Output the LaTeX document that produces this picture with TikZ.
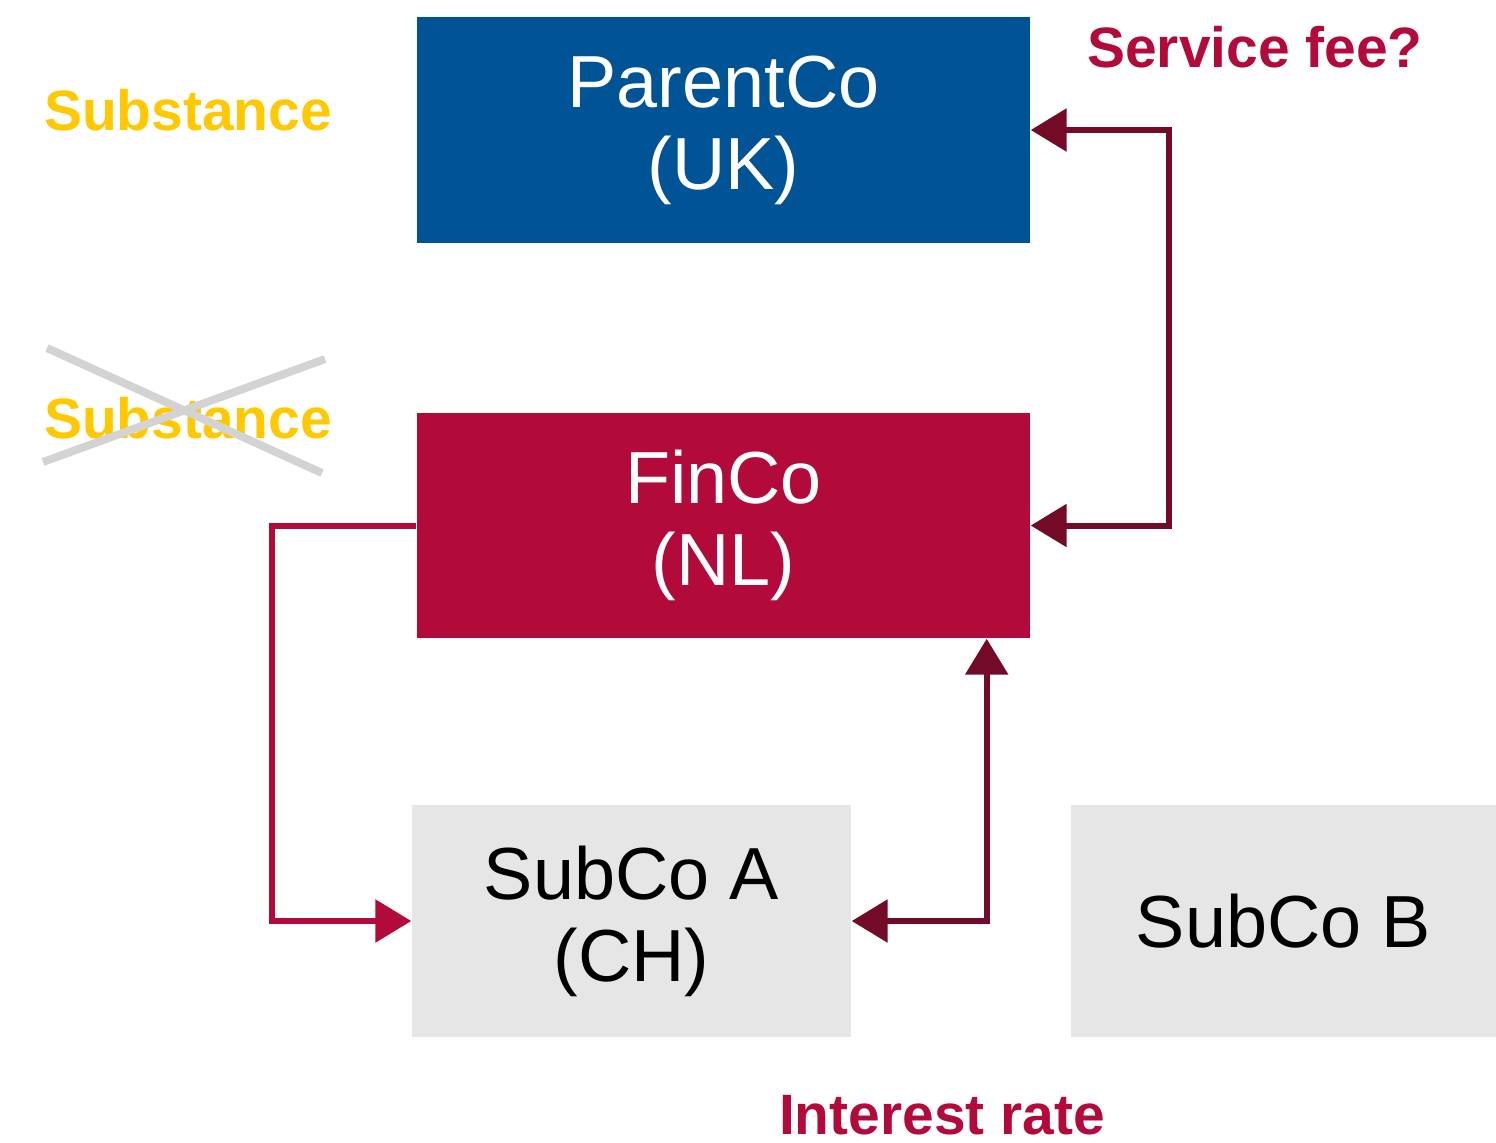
\documentclass[tikz,border=0pt]{standalone}
\usepackage{fontspec}
\setmainfont{Liberation Sans}
\usepackage{tikz}
\usetikzlibrary{arrows.meta, positioning, calc}

\definecolor{parentblue}{HTML}{005495}
\definecolor{fincored}{HTML}{B20A3A}
\definecolor{flowdark}{HTML}{730A28}
\definecolor{subgray}{HTML}{E6E6E6}
\definecolor{substyellow}{HTML}{FFC800}
\definecolor{crossgray}{HTML}{D3D3D3}

\begin{document}
\begin{tikzpicture}[
        entity_box/.style={
            rectangle, inner sep=0pt, align=center,
            font=\fontsize{21}{23.3}\selectfont
        },
        note_label/.style={
            font=\fontsize{16.2}{19}\selectfont\bfseries, inner sep=0pt
        },
        flow_line/.style={
            line width=0.06cm, color=flowdark,
            {Triangle[length=0.36cm, width=0.42cm]}-{Triangle[length=0.36cm, width=0.42cm]}
        },
        loan_line/.style={
            line width=0.06cm, color=fincored,
            -{Triangle[length=0.36cm, width=0.42cm]}
        }
    ]

    \useasboundingbox (0,0) rectangle (14.96,-11.42);

    % Define the entities (Top to Bottom)
    \node[entity_box, fill=parentblue, text=white, minimum width=6.13cm, minimum height=2.26cm] (parent) at (7.235,-1.30) {ParentCo\\(UK)};
    \node[entity_box, fill=fincored, text=white, minimum width=6.13cm, minimum height=2.25cm] (finco) at (7.235,-5.255) {FinCo\\(NL)};
    \node[entity_box, fill=subgray, minimum width=4.39cm, minimum height=2.32cm] (subA) at (6.315,-9.21) {SubCo A\\(CH)};
    \node[entity_box, fill=subgray, minimum width=4.25cm, minimum height=2.32cm] (subB) at (12.835,-9.21) {SubCo B};

    % Substance notes
    \node[note_label, text=substyellow] (substOk) at (1.88,-1.10) {Substance};
    \node[note_label, text=substyellow] (substNo) at (1.88,-4.18) {Substance};
    \draw[crossgray, line width=0.08cm] (0.47,-3.48) -- (3.22,-4.73);
    \draw[crossgray, line width=0.08cm] (0.43,-4.62) -- (3.25,-3.59);

    % Flow labels
    \node[note_label, text=fincored] (feeLbl) at (12.55,-0.47) {Service fee?};
    \node[note_label, text=fincored] (rateLbl) at (9.42,-11.15) {Interest rate};

    % Connectors
    \coordinate (finIn) at ([xshift=-0.44cm]finco.south east);
    \draw[flow_line] (parent.east) -- ++(1.38,0) |- (finco.east);
    \draw[loan_line] (finco.west) -- ++(-1.44,0) |- (subA.west);
    \draw[flow_line] (subA.east) -| (finIn);

\end{tikzpicture}
\end{document}
